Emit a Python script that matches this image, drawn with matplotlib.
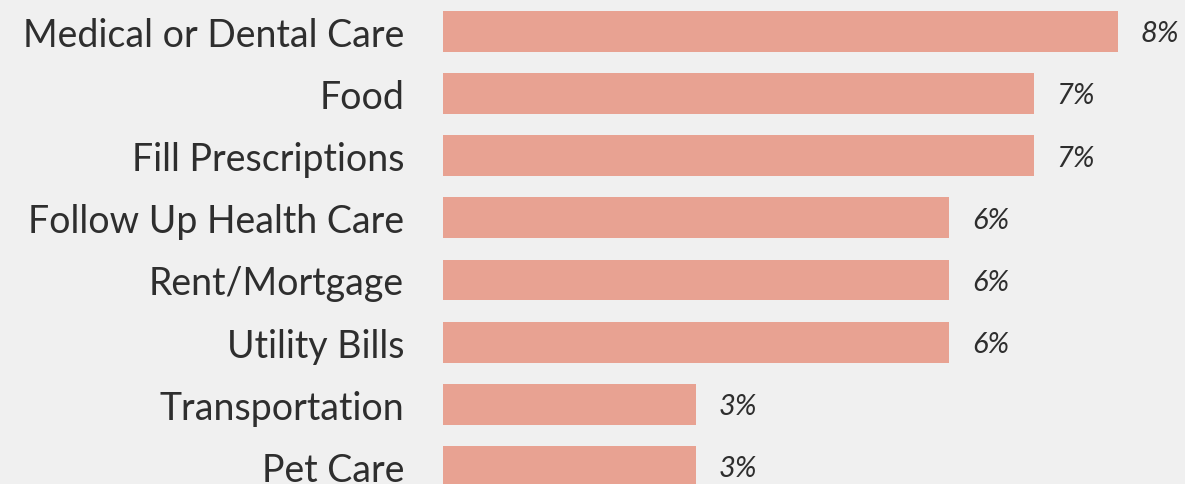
import matplotlib
matplotlib.use("Agg")
import matplotlib.pyplot as plt

categories = ["Medical or Dental Care", "Food", "Fill Prescriptions",
              "Follow Up Health Care", "Rent/Mortgage", "Utility Bills",
              "Transportation", "Pet Care"]
values = [8, 7, 7, 6, 6, 6, 3, 3]
value_labels = ["8%", "7%", "7%", "6%", "6%", "6%", "3%", "3%"]

W, H, DPI = 1185, 485, 100
bg = "#F0F0F0"
bar_color = "#E8A292"
text_color = "#2E2E2E"

plt.rcParams['font.family'] = ['Lato', 'DejaVu Sans']

fig = plt.figure(figsize=(W / DPI, H / DPI), dpi=DPI, facecolor=bg)
left_px = 443
ax = fig.add_axes([left_px / W, 0, (W - left_px) / W, 1])
ax.set_facecolor(bg)

pitch = 62.17
c0 = 32.3
bar_h = 40.7 / pitch
ypos = list(range(len(categories)))
ax.barh(ypos, values, height=bar_h, color=bar_color, edgecolor="none")

px_per_unit = (1118 - left_px) / 8
ax.set_xlim(0, (W - left_px) / px_per_unit)
ax.set_ylim(7 + (H - (c0 + 7 * pitch)) / pitch, -c0 / pitch)

for y, v, lab in zip(ypos, values, value_labels):
    ax.annotate(lab, (v, y), xytext=(23, -2), textcoords="offset pixels",
                ha="left", va="center", fontsize=21, fontstyle="italic",
                color=text_color)

ax.set_yticks(ypos)
ax.set_yticklabels(categories, fontsize=27, color=text_color)
ax.tick_params(axis="y", length=0, pad=28)
ax.set_xticks([])
for s in ax.spines.values():
    s.set_visible(False)

fig.savefig("out.png", dpi=DPI, facecolor=bg)
